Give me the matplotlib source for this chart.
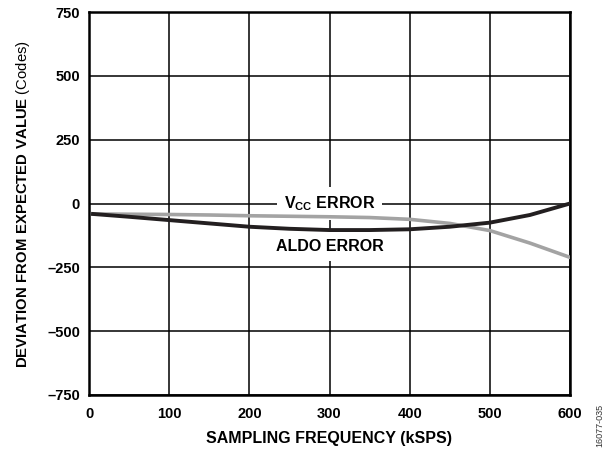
import numpy as np
import matplotlib
matplotlib.use("Agg")
import matplotlib.pyplot as plt

plt.rcParams["font.family"] = ["Liberation Sans", "DejaVu Sans"]
plt.rcParams["mathtext.fontset"] = "custom"
plt.rcParams["mathtext.rm"] = "Liberation Sans"
plt.rcParams["mathtext.bf"] = "Liberation Sans:bold"

# values (kSPS, codes)
freq = [5, 50, 100, 150, 200, 250, 300, 350, 400, 450, 500, 550, 600]
aldo_err = [-41, -52, -65, -78, -91, -99, -104, -104, -101, -91, -75, -45, 0]
vcc_err = [-41, -42, -43, -45, -48, -50, -52, -55, -62, -78, -106, -155, -211]

x_ticks = [0, 100, 200, 300, 400, 500, 600]
y_ticks = [-750, -500, -250, 0, 250, 500, 750]
y_labels = ["\u2013750", "\u2013500", "\u2013250", "0", "250", "500", "750"]

fig = plt.figure(figsize=(6.1, 4.51), dpi=100)
ax = fig.add_axes([89 / 610, 1 - 395 / 451, 481 / 610, 383 / 451])

ax.plot(freq, vcc_err, color="#a3a3a3", lw=2.6, zorder=3)
ax.plot(freq, aldo_err, color="#231f20", lw=2.8, zorder=4)

ax.set_xlim(0, 600)
ax.set_ylim(-750, 750)
ax.set_xticks(x_ticks)
ax.set_yticks(y_ticks)
ax.set_yticklabels(y_labels)
ax.grid(True, color="black", lw=1.1, zorder=1)
ax.tick_params(length=0, labelsize=10.5)
ax.tick_params(axis="x", pad=9)
ax.tick_params(axis="y", pad=6.5)
for lab in ax.get_xticklabels() + ax.get_yticklabels():
    lab.set_fontweight("bold")
for sp in ax.spines.values():
    sp.set_linewidth(1.8)

# label boxes sit over the grid but under the curves
ax.text(300, 0, "V$_{\\mathbf{CC}}$ ERROR", ha="center", va="center", fontsize=11.5,
        fontweight="bold", zorder=2.5,
        bbox=dict(facecolor="white", edgecolor="none", pad=5))
ax.text(300, -168, "ALDO ERROR", ha="center", va="center", fontsize=11.5,
        fontweight="bold", zorder=2.5,
        bbox=dict(facecolor="white", edgecolor="none", pad=5))

ax.set_xlabel("SAMPLING FREQUENCY (kSPS)", fontsize=11.5, fontweight="bold", labelpad=7)
ax.set_ylabel("$\\mathbf{DEVIATION\\ FROM\\ EXPECTED\\ VALUE}$ (Codes)",
              fontsize=10.7, labelpad=11)

fig.text(0.984, 1 - 447 / 451, "16077-035", rotation=90, fontsize=6.5,
         color="#333333", ha="center", va="bottom")

fig.savefig("out.png", dpi=100)
